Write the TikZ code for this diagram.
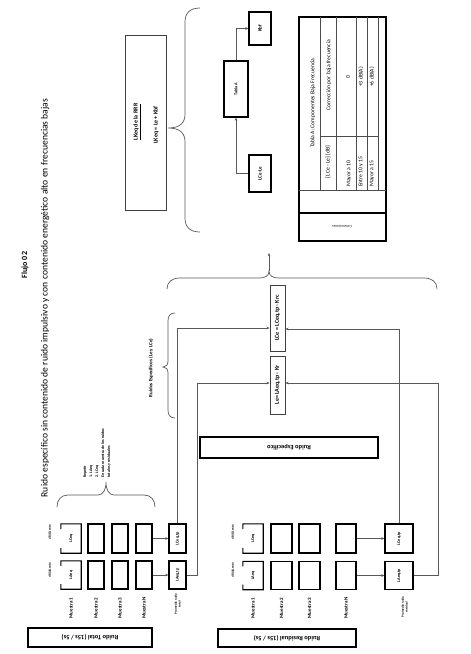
\documentclass[tikz,border=0pt]{standalone}
\usepackage{fontspec}
\setmainfont{Carlito}
\usetikzlibrary{arrows.meta,calc}
\newcommand{\rotL}[1]{\rotatebox{90}{#1}}
\newcommand{\rotU}[1]{\rotatebox{180}{#1}}
\newcommand{\stkC}[1]{\begin{tabular}{@{}c@{}}#1\end{tabular}}
\newcommand{\stkL}[1]{\begin{tabular}{@{}l@{}}#1\end{tabular}}
\tikzset{
  bx/.style={draw=black, line width=1.1pt, inner sep=0pt},
  gbx/.style={draw=black!75, line width=0.7pt, inner sep=0pt},
  gapn/.style={inner sep=0pt},
  bxl/.style={draw=black, line width=1.1pt},
  pl/.style={inner sep=0pt},
  conn/.style={draw=black!65, line width=0.6pt},
  arr/.style={conn, -{Stealth[length=3.2pt,width=2.6pt]}},
  brc/.style={draw=black!65, line width=0.7pt},
  tl/.style={draw=black!70, line width=0.6pt},
  fA/.style={font=\bfseries\fontsize{3.2}{3.9}\selectfont},
  fB/.style={font=\bfseries\fontsize{4.2}{5}\selectfont},
  fC/.style={font=\bfseries\fontsize{5}{6}\selectfont},
  fD/.style={font=\bfseries\fontsize{6}{7}\selectfont},
  fE/.style={font=\bfseries\fontsize{6.5}{7.5}\selectfont},
  fT/.style={font=\bfseries\fontsize{8}{9}\selectfont},
  fS/.style={font=\fontsize{9.6}{10.5}\selectfont},
  fR/.style={font=\bfseries\fontsize{4}{6}\selectfont},
  fTab/.style={font=\fontsize{5.7}{6.5}\selectfont},
}
\begin{document}
\begin{tikzpicture}[x=1pt,y=-1pt]
\useasboundingbox (0,0) rectangle (471,654);
\fill[white] (0,0) rectangle (471,654);

% titles
\node[pl,fT] (title) at (25,265) {\rotL{Flujo 02}};
\node[pl,fS] (sub) at (45,298) {\rotL{Ruido específico sin contenido de ruido impulsivo y  con contenido  energético alto en frecuencias bajas}};

% LKeq box
\node[gbx, minimum width=41pt, minimum height=175pt] (lkeq) at (145.5,122.5) {};
\node[pl,fD] (lkeqT) at (137,122) {\rotL{\underline{LKeq de la RRR}}};
\node[pl,fD] (lkeqF) at (156,125) {\rotL{LKeq = Le + Kbf}};

% brace 1
\coordinate (b1tip) at (168,128);
\draw[brc] (200,8) .. controls (190,8) and (185,13) .. (185,22) -- (185,114) .. controls (185,123) and (180,128) .. (b1tip) .. controls (180,128) and (185,133) .. (185,142) -- (185,218) .. controls (185,227) and (190,232) .. (200,232);

% Tabla A chain
\node[bx, minimum width=22pt, minimum height=37pt, fC] (lcle) at (260,173.5) {\rotL{LCe-Le}};
\node[bx, minimum width=24pt, minimum height=56pt, fB] (tabla) at (236,89) {\rotL{Tabla A}};
\node[bx, minimum width=22pt, minimum height=33pt, fC] (kbf) at (260,28.5) {\rotL{Kbf}};
\draw[arr] (lcle.west) -| (tabla.south);
\draw[arr] (tabla.north) |- (kbf.west);

% table
\node[draw=black, line width=1.2pt, minimum width=87pt, minimum height=224pt, inner sep=0pt] (tab) at (342.5,129) {};
\foreach \xx in {320,336,356,367,378} \draw[tl] (\xx,17) -- (\xx,190);
\draw[tl] (320,136) -- (378,136);
\draw[tl] (299,190) -- (386,190);
\draw[line width=1.2pt] (299,213) -- (386,213);
\node[pl,fTab] (tabT) at (313,103) {\rotL{Tabla A: Componentes Baja Frecuencia}};
\node[pl,fTab] (tabH1) at (328,162) {\rotL{[LCe - Le] [dB]}};
\node[pl,fTab] (tabH2) at (329,75) {\rotL{Corrección por baja frecuencia}};
\node[pl,fTab,anchor=south] (tabR1) at (349,187) {\rotL{Mayor a 10}};
\node[pl,fTab,anchor=south] (tabR2) at (361,187) {\rotL{Entre 10 y 15}};
\node[pl,fTab,anchor=south] (tabR3) at (372,187) {\rotL{Mayor a 15}};
\node[pl,fTab] (tabV1) at (348,77) {\rotL{0}};
\node[pl,fTab] (tabV2) at (361,77) {\rotL{+3 dB(A)}};
\node[pl,fTab] (tabV3) at (372,77) {\rotL{+6 dB(A)}};
\node[pl,font=\fontsize{3.5}{4}\selectfont] (conv) at (342,227) {\rotU{Convenciones}};

% brace 2 and arrow
\coordinate (b2tip) at (269,271);
\coordinate (b2end) at (269,253);
\draw[brc] (167,289) .. controls (167,282) and (172,278) .. (180,278) -- (259,278) .. controls (265,278) and (269,276) .. (b2tip) .. controls (269,276) and (273,278) .. (279,278) -- (424,278) .. controls (432,278) and (437,282) .. (437,289);
\draw[arr] (b2tip) -- (b2end);

% brace 3
\coordinate (b3tip) at (163,367);
\draw[brc] (175,313) .. controls (170,313) and (168,316) .. (168,321) -- (168,361) .. controls (168,365) and (166,367) .. (b3tip) .. controls (166,367) and (168,369) .. (168,373) -- (168,410) .. controls (168,415) and (170,418) .. (175,418);
\node[pl,fC] (ruidosEsp) at (151,368) {\rotL{Ruidos Específicos (Le y LCe)}};

% Le / LCe
\node[gbx, minimum width=15pt, minimum height=58pt, fD] (Le) at (277.5,385) {\rotL{Le= LAeq,tp - Kr}};
\node[gbx, minimum width=15pt, minimum height=66pt, fD] (LCe) at (277.5,318) {\rotL{LCe = LCeq,tp - Krc}};

% Ruido especifico
\node[bx, minimum width=178pt, minimum height=21pt, fE] (resp) at (289,447.5) {\rotU{Ruido Específico}};

% ===== Total =====
\node[bx, minimum width=124pt, minimum height=19pt, fE] (rtot) at (90,637.5) {\rotU{Ruido Total (15s / 5s)}};
\node[pl,fA] (tLc) at (50,532) {\rotL{dB(C)Lento}};
\node[pl,fA] (tLa) at (50,570) {\rotL{dB(A)Lento}};

\node[gapn, minimum width=20pt, minimum height=29pt, fB] (tC1) at (71,538.5) {\rotL{LCeq}};
\node[gapn, minimum width=20pt, minimum height=28pt, fB] (tA1) at (71,575) {\rotL{LAeq}};
\foreach \nn in {tC1,tA1}{
  \draw[bxl] ($(\nn.north west)!0.18!(\nn.south west)$) -- (\nn.north west) -- (\nn.north east) -- (\nn.south east) -- (\nn.south west) -- ($(\nn.south west)!0.18!(\nn.north west)$);
}
\node[bx, minimum width=16pt, minimum height=29pt] (tC2) at (96,538.5) {};
\node[bx, minimum width=16pt, minimum height=28pt] (tA2) at (96,575) {};
\node[bx, minimum width=16pt, minimum height=29pt] (tC3) at (120,538.5) {};
\node[bx, minimum width=16pt, minimum height=28pt] (tA3) at (120,575) {};
\node[bx, minimum width=16pt, minimum height=29pt] (tC4) at (144,538.5) {};
\node[bx, minimum width=16pt, minimum height=28pt] (tA4) at (144,575) {};
\node[bx, minimum width=17pt, minimum height=29pt, fB] (tCp) at (177.5,538.5) {\rotL{LCeq,tp}};
\node[bx, minimum width=17pt, minimum height=28pt, fB] (tAp) at (177.5,575) {\rotL{LAeq,tp}};
\node[pl,fC] (tm1) at (71,608) {\rotL{Muestra 1}};
\node[pl,fC] (tm2) at (96,608) {\rotL{Muestra 2}};
\node[pl,fC] (tm3) at (120,608) {\rotL{Muestra 3}};
\node[pl,fC] (tm4) at (144,608) {\rotL{Muestra N}};
\node[pl,fA] (tprom) at (178,604) {\rotL{\stkC{Promedio ruido\\total}}};

% brace 4 + repetir text
\coordinate (b4tip) at (106,482);
\draw[brc] (57,507) .. controls (57,500) and (61,495) .. (68,495) -- (98,495) .. controls (103,495) and (106,490) .. (b4tip) .. controls (106,490) and (109,495) .. (114,495) -- (144,495) .. controls (151,495) and (155,500) .. (155,507);
\node[pl,fR,anchor=south] (rep) at (97,478) {\rotL{\stkL{Repetir\\1. LAeq\\2. LCeq\\En cada muestra de los ruidos\\totales y residuales}}};

\draw[arr] (tC4.east) -- (tCp.west);
\draw[arr] (tA4.east) -- (tAp.west);

% ===== Residual =====
\node[bx, minimum width=138pt, minimum height=18pt, fE] (rres) at (287,638) {\rotU{Ruido Residual (15s / 5s)}};
\node[pl,fA] (rLc) at (233,532) {\rotL{dB(C)Lento}};
\node[pl,fA] (rLa) at (233,570) {\rotL{dB(A)Lento}};

\node[gapn, minimum width=20pt, minimum height=29pt, fB] (rC1) at (253,538.5) {\rotL{LCeq}};
\node[gapn, minimum width=20pt, minimum height=28pt, fB] (rA1) at (253,575.5) {\rotL{LAeq}};
\foreach \nn in {rC1,rA1}{
  \draw[bxl] ($(\nn.north west)!0.18!(\nn.south west)$) -- (\nn.north west) -- (\nn.north east) -- (\nn.south east) -- (\nn.south west) -- ($(\nn.south west)!0.18!(\nn.north west)$);
}
\node[bx, minimum width=21pt, minimum height=29pt] (rC2) at (281.5,538.5) {};
\node[bx, minimum width=21pt, minimum height=28pt] (rA2) at (281.5,575.5) {};
\node[bx, minimum width=21pt, minimum height=29pt] (rC3) at (309.5,538.5) {};
\node[bx, minimum width=21pt, minimum height=28pt] (rA3) at (309.5,575.5) {};
\node[bx, minimum width=20pt, minimum height=29pt] (rC4) at (346,538.5) {};
\node[bx, minimum width=20pt, minimum height=28pt] (rA4) at (346,575.5) {};
\node[bx, minimum width=28pt, minimum height=29pt, fB] (rCp) at (399,538.5) {\rotL{LCeq,tp}};
\node[bx, minimum width=28pt, minimum height=28pt, fB] (rAp) at (399,575.5) {\rotL{LAeq,tp}};
\node[pl,fC] (rm1) at (253,608) {\rotL{Muestra 1}};
\node[pl,fC] (rm2) at (281.5,608) {\rotL{Muestra 2}};
\node[pl,fC] (rm3) at (309.5,608) {\rotL{Muestra 3}};
\node[pl,fC] (rm4) at (346,608) {\rotL{Muestra N}};
\node[pl,fA] (rprom) at (405,607) {\rotL{\stkC{Promedio ruido\\residual}}};

\draw[arr] (rC4.east) -- (rCp.west);
\draw[arr] (rA4.east) -- (rAp.west);

% ===== into Le / LCe =====
\draw[arr] (tCp.north) |- ([yshift=-10pt]LCe.west);
\draw[arr] (tAp.east) -- ++(11,0) |- ([yshift=2pt]Le.west);
\draw[arr] (rCp.north) |- ([yshift=-11pt]LCe.east);
\draw[arr] (rAp.east) -- ++(25,0) |- ([yshift=2pt]Le.east);
\end{tikzpicture}
\end{document}
